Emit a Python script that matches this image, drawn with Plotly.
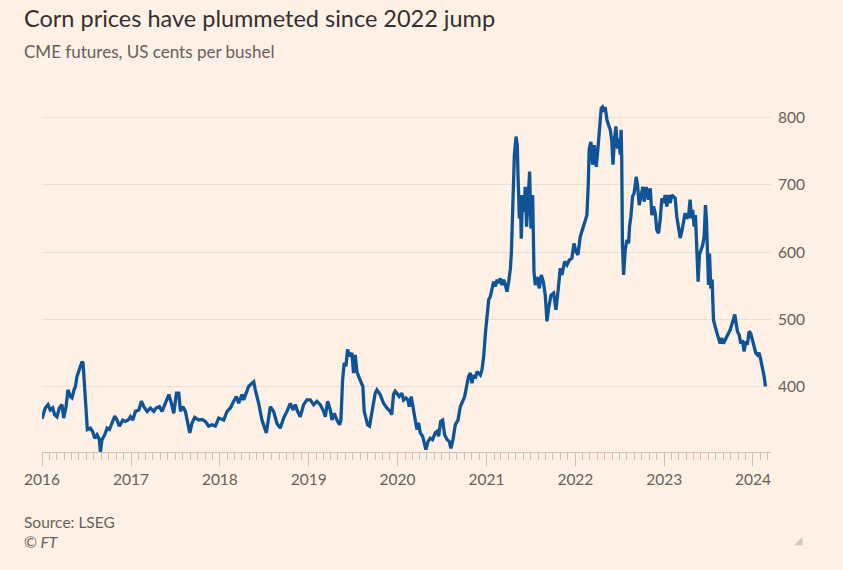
import numpy as np
import pandas as pd
import plotly.graph_objects as go

# ---- Data: CME corn futures, US cents per bushel (time as decimal year) ----
t_2016 = [2016.000, 2016.037, 2016.067, 2016.093, 2016.120, 2016.142, 2016.168, 2016.195, 2016.225, 2016.243,
          2016.270, 2016.292, 2016.318, 2016.337, 2016.360, 2016.375, 2016.393, 2016.420, 2016.450, 2016.461,
          2016.480, 2016.498, 2016.509, 2016.543, 2016.569, 2016.592, 2016.618, 2016.644, 2016.656, 2016.674,
          2016.704, 2016.731, 2016.757, 2016.787, 2016.817, 2016.843, 2016.869, 2016.907, 2016.937, 2016.967,
          2016.993]
p_2016 = [352, 368, 373, 365, 368, 358, 355, 368, 373, 353,
          370, 395, 385, 383, 395, 400, 415, 425, 437, 435,
          390, 365, 336, 338, 333, 323, 328, 321, 303, 321,
          328, 338, 336, 346, 356, 350, 341, 350, 348, 350,
          355]

t_2017 = [2017.020, 2017.049, 2017.087, 2017.117, 2017.143, 2017.181, 2017.218, 2017.256, 2017.282, 2017.319,
          2017.349, 2017.387, 2017.425, 2017.454, 2017.481, 2017.511, 2017.537, 2017.556, 2017.582, 2017.612,
          2017.635, 2017.661, 2017.687, 2017.717, 2017.762, 2017.800, 2017.837, 2017.874, 2017.912, 2017.949,
          2017.987]
p_2017 = [350, 363, 365, 378, 370, 363, 368, 363, 368, 370,
          363, 375, 388, 375, 360, 390, 390, 363, 370, 363,
          350, 331, 346, 354, 350, 351, 348, 341, 343, 341,
          353]

t_2018 = [2018.043, 2018.081, 2018.118, 2018.156, 2018.186, 2018.212, 2018.231, 2018.249, 2018.268, 2018.306,
          2018.324, 2018.362, 2018.381, 2018.399, 2018.437, 2018.474, 2018.504, 2018.523, 2018.549, 2018.568,
          2018.605, 2018.643, 2018.680, 2018.718, 2018.755, 2018.793, 2018.823, 2018.849, 2018.875, 2018.905,
          2018.943, 2018.980]
p_2018 = [350, 363, 368, 378, 385, 375, 383, 388, 380, 393,
          400, 405, 407, 395, 375, 350, 336, 331, 353, 370,
          363, 345, 338, 353, 363, 375, 365, 373, 363, 355,
          373, 380]

t_2019 = [2019.018, 2019.055, 2019.093, 2019.130, 2019.168, 2019.187, 2019.213, 2019.243, 2019.262, 2019.288,
          2019.318, 2019.348, 2019.363, 2019.382, 2019.400, 2019.419, 2019.438, 2019.460, 2019.487, 2019.505,
          2019.524, 2019.543, 2019.562, 2019.588, 2019.610, 2019.625, 2019.648, 2019.663, 2019.685, 2019.704,
          2019.730, 2019.749, 2019.768, 2019.805, 2019.843, 2019.880, 2019.918, 2019.935, 2019.955, 2019.974,
          2019.993]
p_2019 = [380, 373, 378, 373, 363, 355, 378, 365, 350, 360,
          350, 343, 350, 410, 435, 430, 455, 445, 450, 420,
          447, 422, 415, 405, 400, 363, 353, 343, 341, 358,
          375, 390, 395, 388, 375, 368, 363, 358, 388, 393,
          390]

t_2020 = [2020.019, 2020.049, 2020.068, 2020.094, 2020.117, 2020.132, 2020.154, 2020.180, 2020.199, 2020.218,
          2020.237, 2020.255, 2020.282, 2020.304, 2020.319, 2020.342, 2020.368, 2020.394, 2020.424, 2020.443,
          2020.462, 2020.484, 2020.507, 2020.529, 2020.556, 2020.582, 2020.600, 2020.623, 2020.649, 2020.679,
          2020.705, 2020.732, 2020.754, 2020.780, 2020.799, 2020.818, 2020.836, 2020.855, 2020.874, 2020.893,
          2020.911, 2020.930, 2020.949, 2020.968, 2020.987]
p_2020 = [385, 390, 380, 383, 380, 370, 385, 365, 350, 336,
          346, 331, 326, 316, 306, 318, 323, 321, 331, 333,
          326, 348, 350, 328, 321, 318, 308, 321, 343, 350,
          370, 378, 385, 403, 415, 420, 405, 417, 412, 422,
          420, 417, 425, 445, 479]

t_2021 = [2021.005, 2021.024, 2021.043, 2021.062, 2021.080, 2021.099, 2021.118, 2021.137, 2021.155, 2021.174,
          2021.193, 2021.212, 2021.230, 2021.249, 2021.268, 2021.280, 2021.290, 2021.298, 2021.313, 2021.332,
          2021.346, 2021.354, 2021.369, 2021.380, 2021.391, 2021.406, 2021.421, 2021.436, 2021.451, 2021.466,
          2021.485, 2021.500, 2021.519, 2021.534, 2021.549, 2021.571, 2021.594, 2021.616, 2021.639, 2021.661,
          2021.680, 2021.699, 2021.725, 2021.755, 2021.781, 2021.804, 2021.830, 2021.849, 2021.879, 2021.905,
          2021.931, 2021.961, 2021.984]
p_2021 = [504, 529, 534, 549, 556, 549, 559, 554, 561, 551,
          559, 551, 541, 556, 575, 600, 640, 685, 744, 772,
          759, 715, 650, 685, 620, 685, 660, 697, 638, 675,
          720, 635, 685, 571, 551, 563, 546, 566, 556, 536,
          497, 516, 536, 539, 514, 541, 576, 566, 586, 581,
          588, 591, 613]

t_2022 = [2022.006, 2022.029, 2022.055, 2022.081, 2022.104, 2022.130, 2022.145, 2022.156, 2022.175, 2022.194,
          2022.213, 2022.235, 2022.254, 2022.273, 2022.291, 2022.306, 2022.325, 2022.336, 2022.355, 2022.374,
          2022.393, 2022.411, 2022.423, 2022.441, 2022.456, 2022.475, 2022.494, 2022.505, 2022.515, 2022.522,
          2022.530, 2022.543, 2022.561, 2022.580, 2022.599, 2022.610, 2022.625, 2022.644, 2022.662, 2022.685,
          2022.700, 2022.719, 2022.741, 2022.760, 2022.775, 2022.798, 2022.824, 2022.843, 2022.861, 2022.880,
          2022.899, 2022.917, 2022.936, 2022.955, 2022.974, 2022.992]
p_2022 = [601, 596, 623, 635, 645, 655, 700, 754, 764, 730,
          759, 727, 754, 779, 814, 816, 809, 816, 797, 789,
          782, 764, 730, 769, 787, 754, 769, 745, 782, 740,
          611, 566, 603, 618, 613, 638, 653, 683, 688, 712,
          700, 670, 688, 697, 675, 697, 678, 695, 655, 668,
          658, 633, 628, 648, 680, 673]

t_2023 = [2023.011, 2023.030, 2023.049, 2023.068, 2023.086, 2023.105, 2023.124, 2023.142, 2023.161, 2023.180,
          2023.199, 2023.217, 2023.236, 2023.255, 2023.274, 2023.292, 2023.307, 2023.322, 2023.337, 2023.352,
          2023.367, 2023.382, 2023.397, 2023.416, 2023.435, 2023.450, 2023.465, 2023.476, 2023.487, 2023.499,
          2023.510, 2023.525, 2023.540, 2023.555, 2023.574, 2023.592, 2023.611, 2023.630, 2023.649, 2023.667,
          2023.686, 2023.705, 2023.724, 2023.742, 2023.761, 2023.780, 2023.795, 2023.810, 2023.825, 2023.844,
          2023.862, 2023.881, 2023.900, 2023.919, 2023.937, 2023.956, 2023.975, 2023.994]
p_2023 = [685, 668, 685, 673, 685, 683, 680, 653, 640, 621,
          631, 643, 658, 650, 653, 678, 650, 663, 638, 655,
          601, 556, 596, 603, 611, 623, 670, 648, 608, 551,
          598, 546, 559, 499, 489, 479, 472, 464, 472, 464,
          469, 474, 479, 484, 492, 499, 507, 494, 482, 477,
          464, 469, 452, 467, 462, 482, 479, 469]

t_2024 = [2024.012, 2024.031, 2024.050, 2024.069, 2024.087, 2024.106, 2024.125, 2024.140]
p_2024 = [459, 450, 447, 450, 440, 430, 415, 400]

y_ticks = [400, 500, 600, 700, 800]

title = "Corn prices have plummeted since 2022 jump"
subtitle = "CME futures, US cents per bushel"
source = "Source: LSEG"
credit = "© FT"

# ---- Build series ----
def to_date(y):
    yr = int(np.floor(y))
    start = pd.Timestamp(year=yr, month=1, day=1)
    end = pd.Timestamp(year=yr + 1, month=1, day=1)
    return start + (end - start) * (y - yr)

t_all = t_2016 + t_2017 + t_2018 + t_2019 + t_2020 + t_2021 + t_2022 + t_2023 + t_2024
p_all = p_2016 + p_2017 + p_2018 + p_2019 + p_2020 + p_2021 + p_2022 + p_2023 + p_2024
dates = [to_date(t) for t in t_all]

# ---- Layout geometry (pixels) ----
W, H = 843, 570
L, R, T, B = 42, 72, 95, 118
PW, PH = W - L - R, H - T - B

def px_x(x):
    return (x - L) / PW

def px_y(y):
    return (H - B - y) / PH

BG = "#FFF1E5"
TXT = "#33302E"
SUB = "#66605C"
AXC = "#CDC1B6"
GRID = "#EEDFD2"
LINE = "#0F5499"
FONT = "Lato, 'Open Sans', sans-serif"

fig = go.Figure()
fig.add_trace(go.Scatter(
    x=dates, y=p_all, mode="lines",
    line=dict(color=LINE, width=3.3),
    hoverinfo="skip", showlegend=False,
))

fig.update_layout(
    width=W, height=H,
    margin=dict(l=L, r=R, t=T, b=B, pad=0),
    paper_bgcolor=BG, plot_bgcolor=BG,
    font=dict(family=FONT, color=SUB),
    showlegend=False,
    xaxis=dict(
        type="date",
        range=["2016-01-01", "2024-03-15"],
        tickmode="linear", tick0="2016-01-01", dtick="M12", tickformat="%Y",
        ticks="outside", ticklen=13, tickwidth=1, tickcolor=AXC,
        showline=True, linecolor=AXC, linewidth=1,
        showgrid=False, zeroline=False,
        tickfont=dict(size=15.5, color=SUB, family=FONT),
        minor=dict(ticks="outside", ticklen=7, tickwidth=1, tickcolor=AXC,
                   tick0="2016-01-01", dtick="M1", showgrid=False),
        fixedrange=True,
    ),
    yaxis=dict(
        side="right",
        range=[302.5, 833.8],
        tickmode="array", tickvals=y_ticks, ticktext=[str(v) for v in y_ticks],
        showgrid=True, gridcolor=GRID, gridwidth=1,
        zeroline=False, showline=False, ticks="",
        ticklabelstandoff=6,
        tickfont=dict(size=15.5, color=SUB, family=FONT),
        fixedrange=True,
    ),
)

annotations = [
    dict(text=title, x=px_x(22), y=px_y(18), xanchor="left", yanchor="middle",
         font=dict(size=23.5, color=TXT, family=FONT)),
    dict(text=subtitle, x=px_x(22), y=px_y(51), xanchor="left", yanchor="middle",
         font=dict(size=17, color=SUB, family=FONT)),
    dict(text=source, x=px_x(22), y=px_y(522), xanchor="left", yanchor="middle",
         font=dict(size=15.5, color=SUB, family=FONT)),
    dict(text="<i>" + credit + "</i>", x=px_x(22), y=px_y(542), xanchor="left", yanchor="middle",
         font=dict(size=15.5, color=SUB, family=FONT)),
    dict(text="◢", x=px_x(799), y=px_y(540), xanchor="center", yanchor="middle",
         font=dict(size=11, color="#D6CBC1", family="DejaVu Sans")),
]
for a in annotations:
    a.update(xref="paper", yref="paper", showarrow=False)
fig.update_layout(annotations=annotations)

fig.write_html(
    "out.html",
    config={"displayModeBar": False},
    post_script="document.body.style.margin='0';document.body.style.background='#FFF1E5';",
)
